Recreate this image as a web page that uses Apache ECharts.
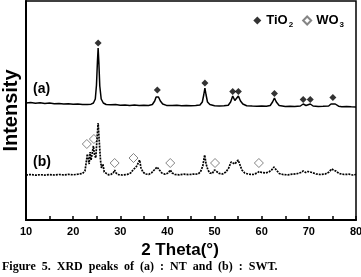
<!DOCTYPE html>
<html>
<head>
<meta charset="utf-8">
<script src="https://cdn.jsdelivr.net/npm/echarts@6/dist/echarts.min.js"></script>
<style>
html,body{margin:0;padding:0;background:#fff;}
#c{width:361px;height:277px;}
</style>
</head>
<body>
<div id="c"></div>
<script>
// ---- data (2θ in degrees, intensity in arbitrary units) ----
const twoThetaA = [10,11,12,13,14,15,16,17,18,19,20,21,22,23,23.8,24.3,24.7,24.95,25.15,25.3,25.45,25.65,25.95,26.4,27,28,29,30,31,32,33,34,35,36,36.8,37.3,37.6,37.85,38.1,38.5,39.0,39.8,41,42,43,44,45,46,46.9,47.4,47.7,47.95,48.2,48.5,49.0,50,51,52,52.9,53.4,53.85,54.3,54.6,55.05,55.5,56.0,56.8,58,59,60,61,61.8,62.3,62.7,63.1,63.7,65,66,67,68.2,68.8,69.4,69.8,70.3,70.9,72,73,74.2,74.7,75.1,75.6,76.3,77,78,79,80];
const intensityA = [117,117.5,116.8,117.2,116.6,116.9,116.3,116.6,116.0,116.3,115.8,116.0,115.5,115.6,115.8,117,121,135,158,172,158,134,121,117,115.5,115.2,115.4,114.8,115.0,114.6,114.9,114.5,114.7,114.6,115.5,119,123,125,123,119,116,114.6,114.4,114.8,114.3,114.6,114.2,114.4,115,118,125,132,125,118,115.5,114.3,114.0,114.3,114.8,118,124,119.5,120,124,119,116,114.3,114.0,113.8,114.0,113.7,114.5,118,122,118,114.5,113.6,113.8,113.5,114,116,114.5,114.8,116,114,113.5,113.7,114,116,118,116,113.8,113.3,113.5,113.2,113];

const twoThetaB = [10,11,12,13,14,15,16,17,18,19,20,21,22,22.5,22.8,23.0,23.2,23.4,23.6,23.8,24.0,24.3,24.5,24.8,25.05,25.3,25.55,25.8,26.0,26.3,26.6,27,27.5,28,28.5,28.8,29.1,29.6,30.5,31.5,32.2,32.7,33.1,33.5,33.8,34.1,34.4,34.8,35.3,36,36.6,37.2,37.8,38.3,38.8,39.5,40.2,40.6,41.0,41.6,42.5,43.5,44.5,45.5,46.5,47.0,47.5,47.9,48.2,48.6,49.0,49.5,50.0,50.4,51.0,51.7,52.4,53.0,53.5,53.9,54.3,54.7,55.0,55.4,55.8,56.4,57.2,58.2,59.0,59.5,60.0,60.8,61.5,62.1,62.6,63.1,63.7,64.5,65.5,66.5,67.5,68.3,68.8,69.3,69.8,70.2,70.7,71.5,72.5,73.5,74.3,74.8,75.2,75.7,76.4,77.5,78.5,79.3,80];
const intensityB = [45,45.5,44.8,45.3,44.9,45.4,45.0,45.5,45.1,45.6,45.2,45.8,46.5,49,58,66,62,56,68,60,62,74,66,62,80,97,78,60,52,56,48,46,45.2,45.6,47,50,47,45.4,45,45.6,47,50,52,54,53,60,52,48,46,45.6,47,50,53,50,47,45.8,47,50,47,45.5,45.2,45.8,45.4,45.9,46,48,54,65,56,50,47,46.5,50,48.5,46.5,46,48,52,58,60,56,58,60,55,50,47,45.8,45.5,47,48.5,47.5,47,48,50,53,50,46.5,45.5,45.2,45.8,46.3,47.5,49,47.5,48.5,50,47.5,46,45.5,46,48,51,52,49,46.5,45.5,45.8,45,45.5];

// phase reflection markers
const tio2Theta = [25.3,37.85,47.95,53.85,55.05,62.7,68.8,70.3,75.1];
const tio2Mark  = [177,130,137,128.5,128.5,126.5,120.5,120.5,122.5];
const wo3Theta  = [22.9,24.4,28.8,32.8,40.6,50.1,59.4];
const wo3Mark   = [76,81,57,62,57,57,57];

const xMin = 10, xMax = 80, xTickStep = 5, xLabelStep = 10;
const xAxisTitle = '2 Theta(°)';
const yAxisTitle = 'Intensity';
const caption = 'Figure  5.  XRD  peaks  of  (a)  :  NT  and  (b)  :  SWT.';

const zip = (a, b) => a.map((v, i) => [v, b[i]]);

const chart = echarts.init(document.getElementById('c'), null, {renderer: 'canvas'});
chart.setOption({
  animation: false,
  backgroundColor: '#fff',
  grid: {left: 26, right: 5, top: 1, bottom: 57, show: true, borderColor: '#000', borderWidth: 1.5,
         containLabel: false, outerBoundsMode: 'none'},
  legend: {
    right: 12, top: 9, itemWidth: 8, itemHeight: 8, itemGap: 9,
    data: ['TiO2', 'WO3'],
    formatter: n => n === 'TiO2' ? '{m|TiO}{s|2}' : '{m|WO}{s|3}',
    textStyle: {
      rich: {
        m: {fontFamily: 'Liberation Sans, Arial', fontWeight: 'bold', fontSize: 13, color: '#000'},
        s: {fontFamily: 'Liberation Sans, Arial', fontWeight: 'bold', fontSize: 8, color: '#000', padding: [8, 0, 0, 1]}
      }
    }
  },
  xAxis: {
    type: 'value', min: xMin, max: xMax, interval: xTickStep,
    axisLine: {lineStyle: {color: '#000', width: 2}},
    axisTick: {inside: true, length: 4, lineStyle: {color: '#000', width: 1.5}},
    splitLine: {show: false},
    axisLabel: {
      margin: 6, color: '#000', fontFamily: 'Liberation Sans, Arial', fontWeight: 'bold', fontSize: 11,
      formatter: v => (v % xLabelStep === 0 ? String(v) : '')
    },
    name: xAxisTitle, nameLocation: 'middle', nameGap: 19,
    nameTextStyle: {color: '#000', fontFamily: 'Liberation Sans, Arial', fontWeight: 'bold', fontSize: 17, padding: [0, 22, 0, 0]}
  },
  yAxis: {
    type: 'value', min: 0, max: 219,
    axisLine: {show: true, lineStyle: {color: '#000', width: 2}},
    axisTick: {show: false}, axisLabel: {show: false}, splitLine: {show: false},
    name: yAxisTitle, nameLocation: 'middle', nameGap: 5,
    nameTextStyle: {color: '#000', fontFamily: 'Liberation Sans, Arial', fontWeight: 'bold', fontSize: 20}
  },
  series: [
    {
      name: '(a)', type: 'line', data: zip(twoThetaA, intensityA), showSymbol: false, symbol: 'none',
      lineStyle: {color: '#000', width: 1.5}, silent: true
    },
    {
      name: '(b)', type: 'line', data: zip(twoThetaB, intensityB), showSymbol: false, symbol: 'none',
      lineStyle: {color: '#000', width: 1.7, type: [2, 1]}, silent: true
    },
    {
      name: 'TiO2', type: 'scatter', data: zip(tio2Theta, tio2Mark), symbol: 'diamond', symbolSize: 7,
      itemStyle: {color: '#000'}, silent: true
    },
    {
      name: 'WO3', type: 'scatter', data: zip(wo3Theta, wo3Mark), symbol: 'diamond', symbolSize: 9,
      itemStyle: {color: '#fff', borderColor: '#666', borderWidth: 1}, silent: true
    }
  ],
  graphic: [
    {type: 'text', left: 33, top: 82, style: {text: '(a)', font: 'bold 14px "Liberation Sans", Arial', fill: '#000'}},
    {type: 'text', left: 33, top: 155, style: {text: '(b)', font: 'bold 14px "Liberation Sans", Arial', fill: '#000'}},
    {type: 'text', left: 2, top: 261, style: {text: caption, font: 'bold 12px "Liberation Serif", "Times New Roman", serif', fill: '#000'}}
  ]
});
</script>
</body>
</html>
